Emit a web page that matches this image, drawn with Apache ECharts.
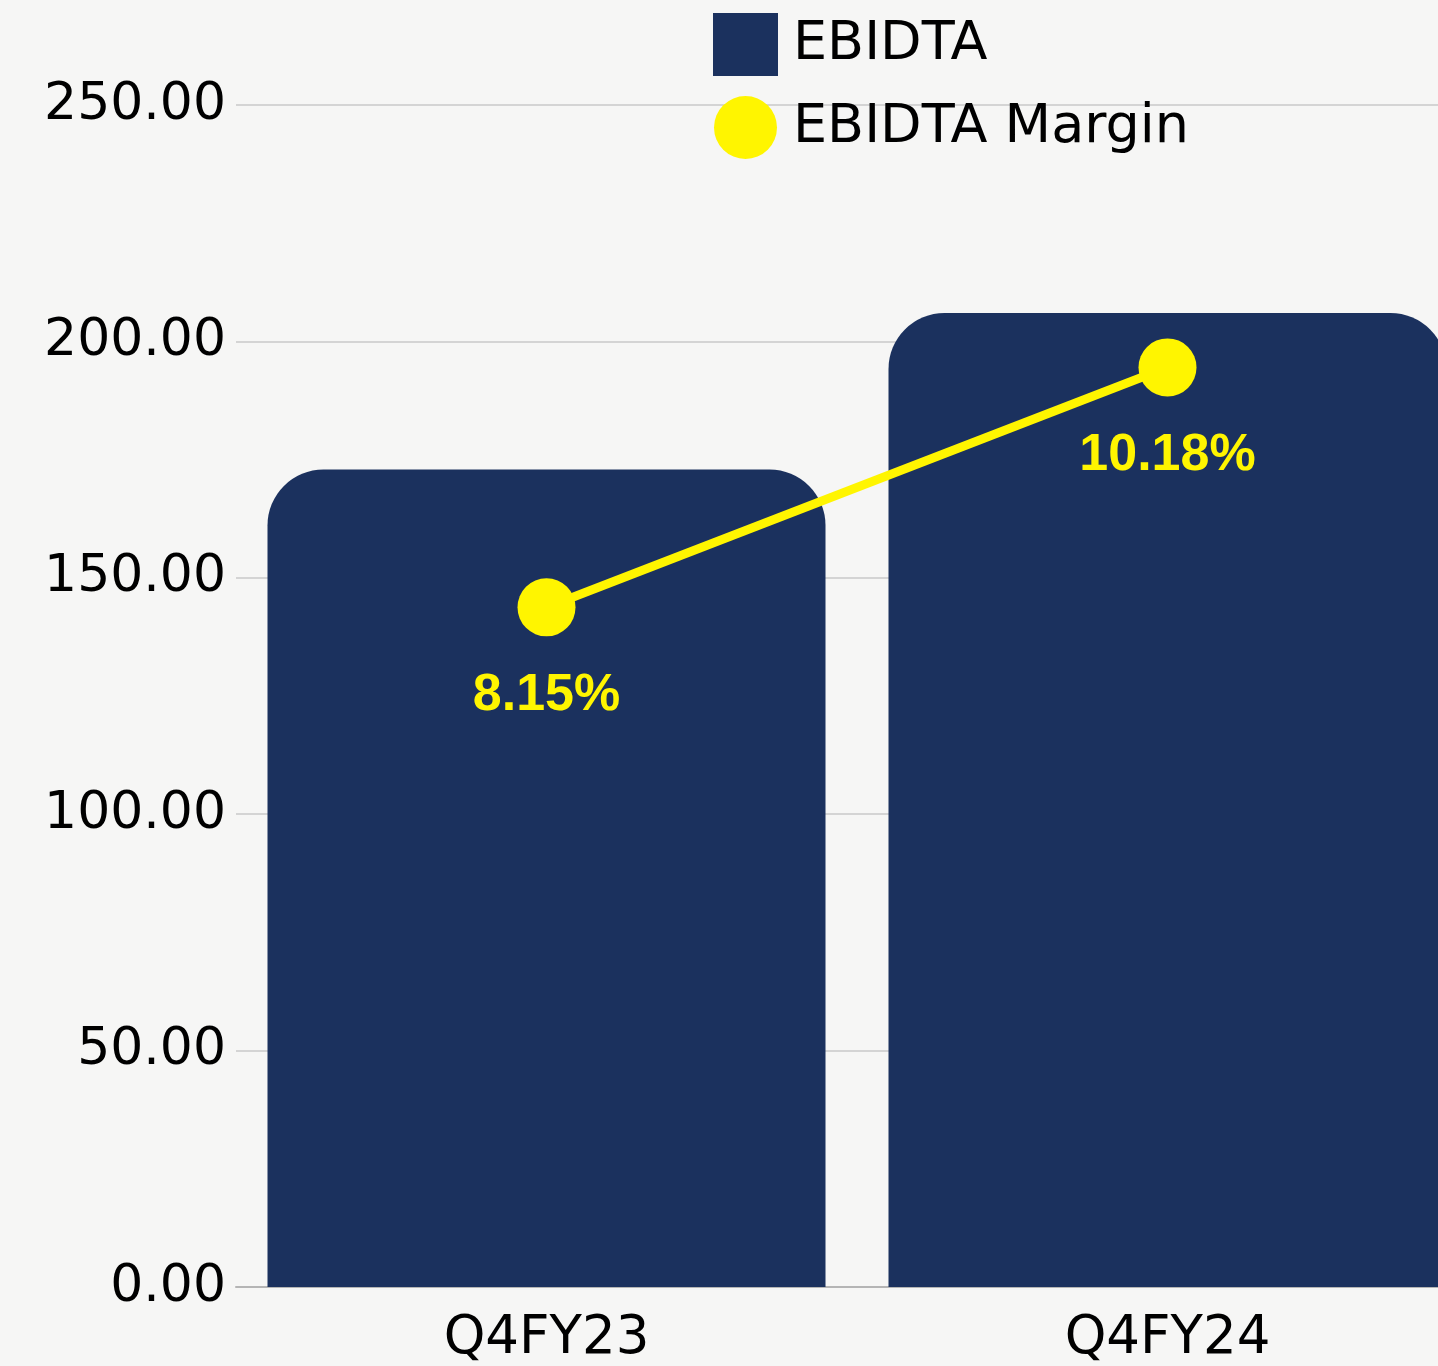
<!DOCTYPE html>
<html>
<head>
<meta charset="utf-8">
<script src="https://cdn.jsdelivr.net/npm/echarts@6/dist/echarts.min.js"></script>
<style>
  html, body { margin: 0; padding: 0; background: #f6f6f5; overflow: hidden; }
  /* chart is wider than the window: the second bar is cut at the right edge */
  #chart { width: 1478px; height: 1366px; }
</style>
</head>
<body>
<div id="chart"></div>
<script>
// data
const categories = ['Q4FY23', 'Q4FY24'];
const ebidta = [172.9, 206.0];
const ebidtaMargin = [8.15, 10.18];
const yTicks = [0, 50, 100, 150, 200, 250];

const myChart = echarts.init(document.getElementById('chart'));
const axisFont = 'DejaVu Sans';

const option = {
    backgroundColor: '#f6f6f5',
    legend: {
        orient: 'vertical',
        left: 713,
        top: 13,
        padding: 0,
        itemWidth: 65,
        itemHeight: 63,
        itemGap: 20,
        textStyle: {
            fontFamily: axisFont,
            fontSize: 54,
            color: '#000',
            padding: [0, 0, 0, 10]
        },
        data: [
            { name: 'EBIDTA', icon: 'rect' },
            { name: 'EBIDTA Margin', icon: 'circle' }
        ]
    },
    grid: {
        left: 236,
        right: 0,
        top: 105,
        bottom: 78
    },
    xAxis: {
        type: 'category',
        data: categories,
        axisTick: { show: false },
        axisLine: { lineStyle: { color: '#b5b5b5', width: 2 } },
        axisLabel: {
            fontFamily: axisFont,
            fontSize: 53,
            color: '#000',
            margin: 26
        }
    },
    yAxis: [{
        type: 'value',
        min: yTicks[0],
        max: yTicks[yTicks.length - 1],
        interval: 50,
        axisLine: { show: false },
        axisTick: { show: false },
        splitLine: { lineStyle: { color: '#c9c9c9', width: 1.5 } },
        axisLabel: {
            fontFamily: axisFont,
            fontSize: 52,
            color: '#000',
            margin: 10,
            formatter: (v) => v.toFixed(2)
        }
    }, {
        // hidden axis for the margin line
        type: 'value',
        min: 2.4,
        max: 12.4,
        show: false,
        splitLine: { show: false }
    }],
    series: [{
        name: 'EBIDTA',
        type: 'bar',
        data: ebidta,
        barWidth: 558,
        itemStyle: {
            color: '#1b315e',
            borderRadius: [56, 56, 0, 0]
        }
    }, {
        name: 'EBIDTA Margin',
        type: 'line',
        yAxisIndex: 1,
        data: ebidtaMargin,
        symbol: 'circle',
        symbolSize: 58,
        lineStyle: { color: '#fff500', width: 9 },
        itemStyle: { color: '#fff500' },
        label: {
            show: true,
            position: 'bottom',
            distance: 33,
            fontFamily: 'Liberation Sans',
            fontWeight: 'bold',
            fontSize: 52,
            color: '#fff500',
            formatter: (p) => p.value + '%'
        },
        z: 5
    }]
};
myChart.setOption(option);
</script>
</body>
</html>
